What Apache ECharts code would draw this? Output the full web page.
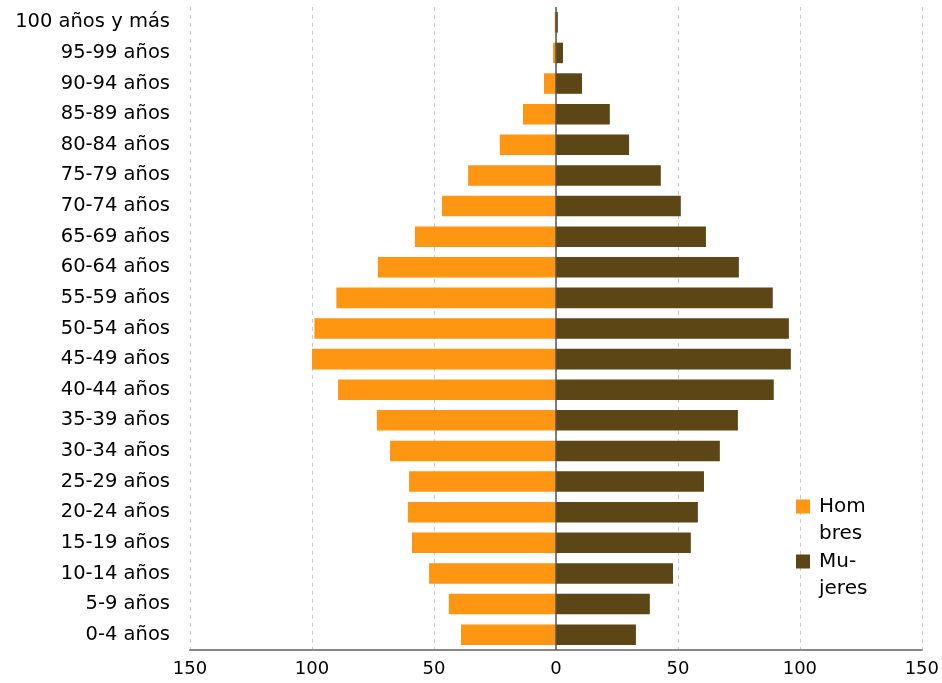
<!DOCTYPE html>
<html><head><meta charset="utf-8">
<script src="https://cdn.jsdelivr.net/npm/echarts@6/dist/echarts.min.js"></script>
<style>html,body{margin:0;padding:0;background:#fff}#c{width:942px;height:683px}</style>
</head><body><div id="c"></div>
<script>
const categories = ["0-4 años","5-9 años","10-14 años","15-19 años","20-24 años","25-29 años","30-34 años","35-39 años","40-44 años","45-49 años","50-54 años","55-59 años","60-64 años","65-69 años","70-74 años","75-79 años","80-84 años","85-89 años","90-94 años","95-99 años","100 años y más"];
const hombres = [38.9,43.9,52,59,60.7,60.2,68,73.4,89.3,100,99,90,73,57.8,46.7,36,23,13.5,4.9,1.2,0.5];
const mujeres = [32.8,38.5,48,55.3,58.2,60.7,67.2,74.6,89.3,96.3,95.5,88.9,75,61.5,51.2,43,30,22.1,10.7,2.9,0.8];
const xTicks = {min:-150, max:150, interval:50};
const font = "'DejaVu Sans', sans-serif";
const L = 27.5;
const icon = 'path://M0,0h14v14h-14z M0,42h14';
const chart = echarts.init(document.getElementById('c'));
chart.setOption({
  animation:false,
  textStyle:{fontFamily:font},
  grid:{left:190,right:20,top:7,bottom:33,containLabel:false},
  legend:{
    orient:'vertical', left:796, top:493, padding:0, itemWidth:14, itemHeight:42, itemGap:0,
    textStyle:{fontSize:20,color:'#000',fontFamily:font,lineHeight:L,padding:[0,0,0,4]},
    formatter:function(n){return n==='Hombres'?'Hom\nbres':'Mu-\njeres';},
    data:[{name:'Hombres',icon:icon},{name:'Mujeres',icon:icon}]
  },
  xAxis:{type:'value',min:xTicks.min,max:xTicks.max,interval:xTicks.interval,
    axisLine:{show:true,onZero:false,lineStyle:{color:'#888',width:2}},
    axisTick:{show:false},
    axisLabel:{fontSize:18,color:'#000',margin:10,formatter:v=>Math.abs(v)},
    splitLine:{show:true,lineStyle:{color:'#ccc',type:[4,4],width:1}}
  },
  yAxis:{type:'category',data:categories,
    axisLine:{show:false,onZero:false},axisTick:{show:false},
    axisLabel:{fontSize:19.5,color:'#000',margin:20}
  },
  series:[
    {name:'Hombres',type:'bar',stack:'a',data:hombres.map(v=>-v),barCategoryGap:'33%',
      itemStyle:{color:'#FF9612'},
      markLine:{silent:true,symbol:'none',label:{show:false},lineStyle:{color:'#555',width:1.5,type:'solid'},data:[{xAxis:0}]}},
    {name:'Mujeres',type:'bar',stack:'a',data:mujeres,itemStyle:{color:'#5C4616'}}
  ]
});
</script></body></html>
